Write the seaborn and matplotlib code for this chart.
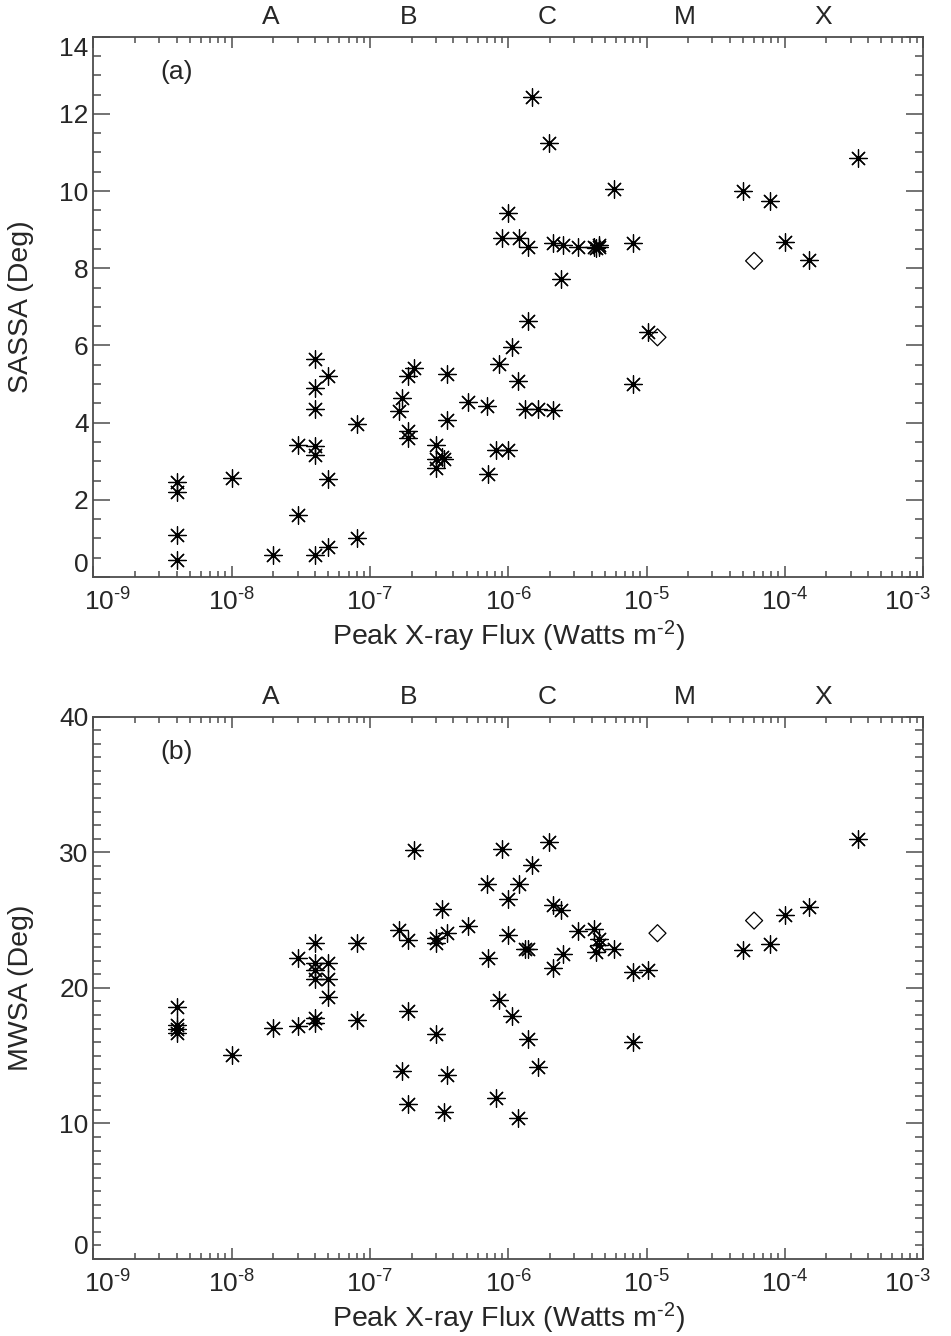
import matplotlib
matplotlib.use("Agg")
import matplotlib.pyplot as plt
import matplotlib.ticker as mticker
import matplotlib.transforms as mtrans
import seaborn as sns
import numpy as np

# --- flare events: peak GOES flux, SASSA and MWSA ---
flux = [4e-9, 4e-9, 4e-9, 4e-9, 1e-8, 2e-8, 3e-8, 3e-8,
        4e-8, 4e-8, 4e-8, 4e-8, 4e-8, 4e-8, 5e-8, 5e-8, 5e-8, 8e-8, 8e-8,
        1.62e-7, 1.71e-7, 1.89e-7, 1.89e-7, 1.89e-7, 2.08e-7,
        3.0e-7, 3.0e-7, 3.0e-7, 3.3e-7, 3.45e-7, 3.6e-7, 3.6e-7,
        5.08e-7, 7.0e-7, 7.1e-7, 8.57e-7, 8.1e-7, 9.0e-7,
        1e-6, 1e-6, 1.07e-6, 1.18e-6, 1.2e-6,
        1.32e-6, 1.4e-6, 1.4e-6, 1.49e-6, 1.65e-6,
        1.98e-6, 2.09e-6, 2.1e-6, 2.4e-6, 2.5e-6, 3.18e-6,
        4.2e-6, 4.5e-6, 4.5e-6, 4.3e-6, 5.86e-6, 8e-6, 8e-6, 1.02e-5,
        5e-5, 7.85e-5, 1e-4, 1.5e-4, 3.39e-4]
sassa = [2.45, 2.21, 1.10, 0.45, 2.56, 0.58, 3.41, 1.60,
         5.66, 4.89, 4.34, 3.39, 3.17, 0.58, 5.20, 2.54, 0.77, 3.96, 1.01,
         4.29, 4.65, 5.21, 3.79, 3.60, 5.42,
         3.42, 2.83, 3.05, 3.12, 3.07, 5.26, 4.08,
         4.54, 4.43, 2.66, 5.53, 3.28, 8.77,
         3.28, 9.43, 5.97, 5.07, 8.77,
         4.35, 8.56, 6.62, 12.44, 4.35,
         11.24, 8.65, 4.33, 7.72, 8.60, 8.56,
         8.56, 8.56, 8.60, 8.52, 10.05, 8.65, 5.01, 6.35,
         10.0, 9.73, 8.68, 8.20, 10.86]
mwsa = [18.57, 17.24, 16.96, 16.68, 15.07, 17.05, 22.19, 17.16,
        23.27, 21.85, 21.3, 20.64, 17.81, 17.39, 21.85, 20.64, 19.36, 23.32, 17.61,
        24.23, 13.85, 23.55, 18.32, 11.45, 30.19,
        23.69, 23.32, 16.59, 25.78, 10.83, 24.03, 13.57,
        24.59, 27.65, 22.19, 19.08, 11.87, 30.25,
        23.89, 26.57, 17.95, 10.37, 27.65,
        22.84, 22.9, 16.25, 29.03, 14.19,
        30.73, 26.09, 21.48, 25.72, 22.53, 24.17,
        24.31, 23.60, 23.18, 22.61, 22.90, 21.14, 16.03, 21.29,
        22.81, 23.24, 25.36, 25.95, 30.95]

# second event type (open diamonds)
flux_d = [1.2e-5, 6.0e-5]
sassa_d = [6.21, 8.19]
mwsa_d = [24.03, 24.96]

goes_class = ["A", "B", "C", "M", "X"]
class_start = [1e-8, 1e-7, 1e-6, 1e-5, 1e-4]
decades = [-9, -8, -7, -6, -5, -4, -3]

sns.set_style("ticks")
plt.rcParams["font.family"] = ["Liberation Sans", "DejaVu Sans"]
plt.rcParams["mathtext.fontset"] = "custom"
plt.rcParams["mathtext.rm"] = "Liberation Sans"
plt.rcParams["mathtext.it"] = "Liberation Sans"
fs = 19
ax_col = "0.3"
hy = "\u2010"  # short hyphen in exponents, as in the original

fig = plt.figure(figsize=(9.51, 13.36), dpi=100)
ax1 = fig.add_axes([0.0983, 0.5681, 0.8723, 0.4045])
ax2 = fig.add_axes([0.0983, 0.0576, 0.8723, 0.4060])

panels = [(ax1, sassa, sassa_d, "SASSA (Deg)", "(a)", 14, 2, 0.5, "top"),
          (ax2, mwsa, mwsa_d, "MWSA (Deg)", "(b)", 40, 10, 1, "center_baseline")]

for ax, yv, yd, ylab, tag, ymax, ymaj, ymin, top_va in panels:
    sns.scatterplot(x=flux, y=yv, ax=ax, marker=(8, 2, 0), s=160,
                    color="black", linewidth=0.9, legend=False)
    sns.scatterplot(x=flux_d, y=yd, ax=ax, marker="D", s=75,
                    facecolor="none", edgecolor="black", linewidth=0.9,
                    legend=False)
    ax.set_xscale("log")
    ax.set_xticks([10.0 ** d for d in decades])
    ax.set_xticklabels([r"$10^{%s%d}$" % (hy, -d) for d in decades])
    ax.xaxis.set_minor_locator(mticker.LogLocator(base=10, subs=np.arange(2, 10), numticks=10))
    ax.xaxis.set_minor_formatter(mticker.NullFormatter())
    ax.set_xlim(1e-9, 1e-3)
    ax.yaxis.set_major_locator(mticker.MultipleLocator(ymaj))
    ax.yaxis.set_minor_locator(mticker.MultipleLocator(ymin))
    ax.set_ylim(0, ymax)
    ax.tick_params(axis="both", which="both", direction="in", top=True, right=True,
                   color=ax_col, labelsize=fs, width=1.1)
    ax.tick_params(axis="y", which="major", length=12)
    ax.tick_params(axis="y", which="minor", length=6)
    ax.tick_params(axis="x", which="major", length=8, pad=8)
    ax.tick_params(axis="x", which="minor", length=4)
    for sp in ax.spines.values():
        sp.set_color(ax_col)
        sp.set_linewidth(1.3)

    ax.set_xlabel(r"Peak X-ray Flux (Watts m$^{%s2}$)" % hy, fontsize=20.5)
    ax.set_ylabel(ylab, fontsize=20.5)
    ax.yaxis.set_label_coords(-0.072, 0.5)
    ax.xaxis.set_label_coords(0.5, -0.077)

    fig.canvas.draw()
    ylabels = [t for t in ax.get_yticklabels()
               if 0 <= t.get_position()[1] <= ymax]
    ylabels[0].set_verticalalignment("bottom")
    ylabels[-1].set_verticalalignment(top_va)
    xlabels = ax.get_xticklabels()
    for lab, dx in ((xlabels[0], 10), (xlabels[-1], -11)):
        lab.set_transform(lab.get_transform() +
                          mtrans.ScaledTranslation(dx / 72, 0, fig.dpi_scale_trans))

    for lab, lo in zip(goes_class, class_start):
        ax.annotate(lab, xy=(lo * 1.9, 1), xycoords=ax.get_xaxis_transform(),
                    xytext=(0, 9), textcoords="offset points",
                    ha="center", va="baseline", fontsize=fs)
    ax.text(0.1, 0.935, tag, transform=ax.transAxes, fontsize=fs,
            ha="center", va="center")

fig.savefig("out.png", dpi=100)
